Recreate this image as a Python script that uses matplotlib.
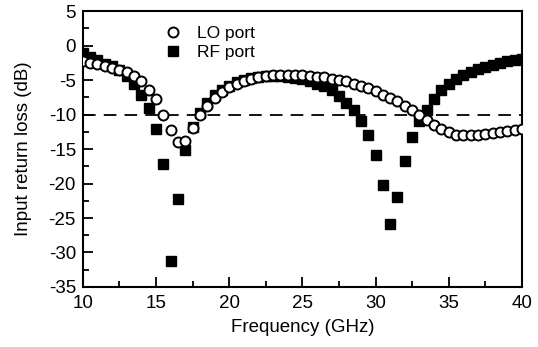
import numpy as np
import matplotlib
matplotlib.use("Agg")
import matplotlib.pyplot as plt

plt.rcParams['font.family'] = ['Liberation Sans', 'DejaVu Sans']
plt.rcParams['axes.unicode_minus'] = False

# frequency grid (GHz), 0.5 GHz step
freq = np.arange(10, 40.01, 0.5)

# LO port return loss (dB)
lo_port = [-2.3, -2.5, -2.7, -2.9, -3.2, -3.5, -3.9, -4.4, -5.2, -6.4,
           -7.8, -10.0, -12.2, -14.0, -13.9, -11.9, -10.0, -8.7, -7.6, -6.7,
           -6.0, -5.5, -5.1, -4.8, -4.6, -4.4, -4.3, -4.2, -4.2, -4.2,
           -4.3, -4.4, -4.5, -4.6, -4.8, -5.0, -5.2, -5.5, -5.8, -6.2,
           -6.6, -7.1, -7.6, -8.1, -8.7, -9.3, -10.0, -10.8, -11.5, -12.1,
           -12.6, -12.9, -13.0, -13.0, -12.95, -12.85, -12.7, -12.55, -12.4, -12.25,
           -12.1]

# RF port return loss (dB)
rf_port = [-1.1, -1.6, -2.1, -2.6, -3.0, -3.6, -4.4, -5.6, -7.2, -9.1,
           -12.1, -17.1, -31.2, -22.3, -15.1, -11.8, -9.8, -8.3, -7.2, -6.4,
           -5.8, -5.3, -5.0, -4.7, -4.5, -4.4, -4.4, -4.4, -4.5, -4.7,
           -4.9, -5.2, -5.5, -5.9, -6.4, -7.3, -8.3, -9.4, -11.0, -13.0,
           -15.9, -20.2, -25.8, -22.0, -16.7, -13.3, -11.0, -9.3, -7.8, -6.5,
           -5.6, -4.9, -4.3, -3.8, -3.4, -3.1, -2.8, -2.5, -2.3, -2.1,
           -1.9]

fig = plt.figure(figsize=(5.38, 3.47), dpi=100)
ax = fig.add_axes([0.154, 0.173, 0.816, 0.795])

ax.axhline(-10, color='black', lw=1.3, ls=(0, (7, 4.5)), zorder=1)
ax.plot(freq, rf_port, 's', color='black', ms=6.6, ls='none', label='RF port', zorder=2)
ax.plot(freq, lo_port, 'o', mfc='white', mec='black', mew=1.4, ms=7.2, ls='none',
        label='LO port', zorder=3)

ax.set_xlim(10, 40)
ax.set_ylim(-35, 5)
ax.set_xticks(np.arange(10, 41, 5))
ax.set_yticks(np.arange(-35, 6, 5))
ax.set_xticks(np.arange(12.5, 40, 5), minor=True)
ax.set_yticks(np.arange(-32.5, 5, 5), minor=True)
ax.tick_params(which='both', direction='in', top=False, right=False, labelsize=13.5)
ax.tick_params(which='major', length=7, width=1.3)
ax.tick_params(which='minor', length=4, width=1.3)
ax.tick_params(axis='x', pad=5.5)
ax.tick_params(axis='y', pad=5)
for s in ax.spines.values():
    s.set_linewidth(1.5)

ax.set_xlabel('Frequency (GHz)', fontsize=13.5, labelpad=5)
ax.set_ylabel('Input return loss (dB)', fontsize=13.5, labelpad=12)

h, l = ax.get_legend_handles_labels()
ax.legend(h[::-1], l[::-1], loc='upper left', bbox_to_anchor=(0.165, 0.97), frameon=False,
          fontsize=12.5, handletextpad=0.8, labelspacing=0.2, handlelength=1.2,
          borderaxespad=0)

fig.savefig('out.png', dpi=100)
